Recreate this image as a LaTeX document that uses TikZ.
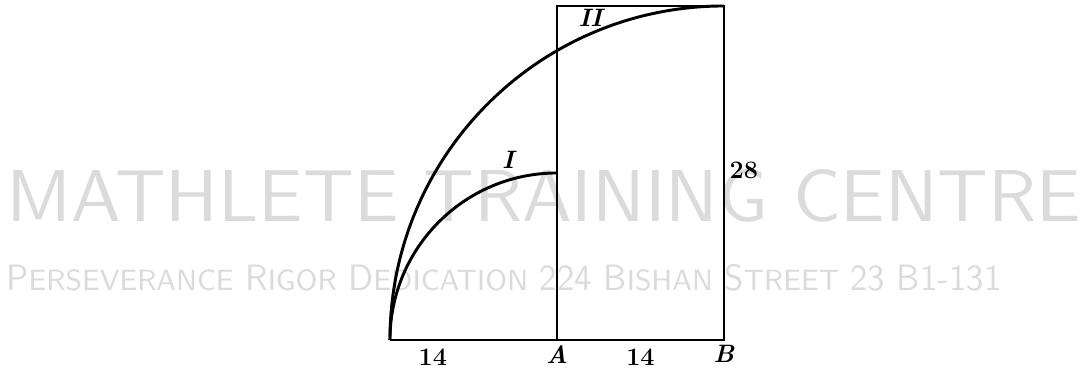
\documentclass[tikz,border=0pt]{standalone}
\usepackage{graphicx}
\newcommand{\wmsc}[2]{#1{\footnotesize #2}}
\begin{document}
\begin{tikzpicture}[x=0.2cm, y=0.2cm, line width=1.4pt,
    lbl/.style={font=\large\bfseries, inner sep=2pt},
    wm/.style={text=black!14, inner sep=0pt, anchor=west}]
\useasboundingbox (-60.69,-2.77) rectangle (30.43,28.5);
% watermark
\node[wm] (wmtop) at (-60.27,12.07) {\resizebox{18.02cm}{0.87cm}{\sffamily MATHLETE TRAINING CENTRE}};
\node[wm] (wmbot) at (-60.27,5.2) {\resizebox{16.68cm}{0.44cm}{\sffamily \wmsc{P}{ERSEVERANCE} \wmsc{R}{IGOR} \wmsc{D}{EDICATION} 224 \wmsc{B}{ISHAN} \wmsc{S}{TREET} 23 B1-131}};
% points
\coordinate (B) at (0,0);
\coordinate (A) at (-14,0);
\coordinate (C) at (-28,0);
\coordinate (D) at (0,28);
\coordinate (E) at (-14,28);
\draw (C)--(B)--(D)--(E)--(A);
\draw (C) arc[start angle=180, end angle=90, radius=28];
\draw (C) arc[start angle=180, end angle=90, radius=14];
% labels
\node[lbl] (len1) at (-24.4,-1.45) {14};
\node[lbl] (len2) at (-7,-1.45) {14};
\node[lbl, below] (labA) at (A) {\itshape A};
\node[lbl, below] (labB) at (B) {\itshape B};
\node[lbl, right] (len3) at (0,14.25) {28};
\node[lbl] (regI) at (-18.1,15.1) {\itshape I};
\node[lbl] (regII) at (-11.2,27) {\itshape II};
\end{tikzpicture}
\end{document}
